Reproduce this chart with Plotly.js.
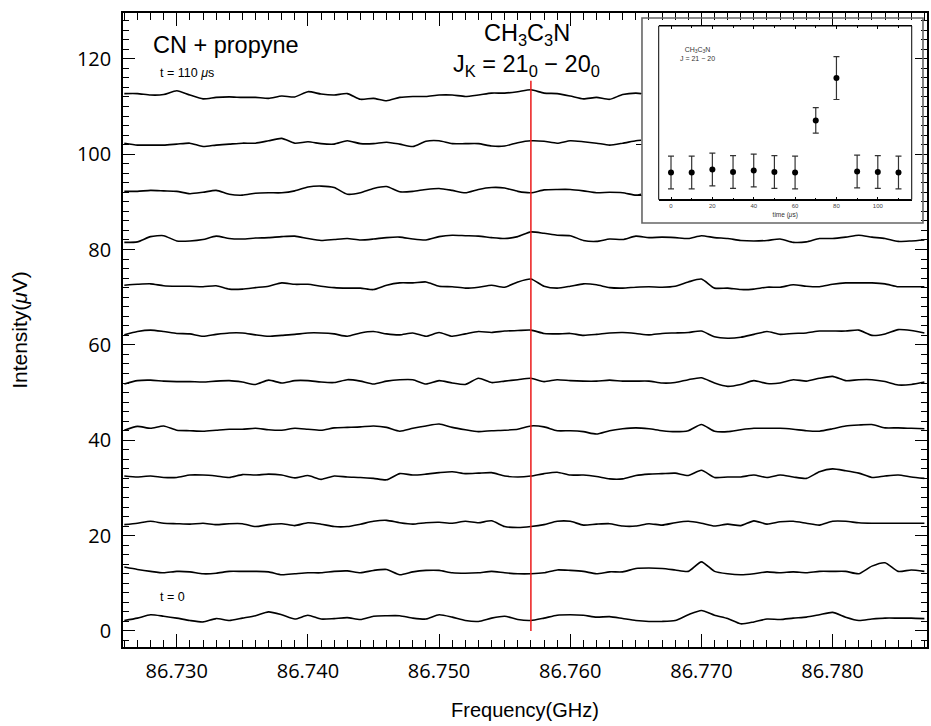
<!DOCTYPE html>
<html><head><meta charset="utf-8">
<script src="https://cdn.plot.ly/plotly-3.0.1.min.js"></script>
<style>html,body{margin:0;padding:0;background:#fff}#chart{width:931px;height:726px}</style>
</head><body><div id="chart"></div>
<script>
// ---- Main spectra: frequency grid (GHz) ----
const freqs = [86.726,86.727,86.728,86.729,86.730,86.731,86.732,86.733,86.734,86.735,
  86.736,86.737,86.738,86.739,86.740,86.741,86.742,86.743,86.744,86.745,
  86.746,86.747,86.748,86.749,86.750,86.751,86.752,86.753,86.754,86.755,
  86.756,86.757,86.758,86.759,86.760,86.761,86.762,86.763,86.764,86.765,
  86.766,86.767,86.768,86.769,86.770,86.771,86.772,86.773,86.774,86.775,
  86.776,86.777,86.778,86.779,86.780,86.781,86.782,86.783,86.784,86.785,
  86.786,86.787];
// upper three spectra end where the inset panel begins
const freqsTop = [86.726,86.727,86.728,86.729,86.730,86.731,86.732,86.733,86.734,86.735,
  86.736,86.737,86.738,86.739,86.740,86.741,86.742,86.743,86.744,86.745,
  86.746,86.747,86.748,86.749,86.750,86.751,86.752,86.753,86.754,86.755,
  86.756,86.757,86.758,86.759,86.760,86.761,86.762,86.763,86.764,86.765,
  86.7654];

// intensities (uV, offset per time step)
const int_t0 = [2.2,2.7,3.4,3.1,2.7,2.2,1.9,2.6,2.2,2.7, 3.2,4.0,3.4,2.5,3.3,2.5,2.6,2.8,2.4,3.1,
  3.2,3.2,2.7,2.5,3.4,2.9,2.2,2.0,2.7,3.1, 2.4,2.2,2.7,3.3,3.4,3.3,2.9,3.0,2.6,2.2,
  2.0,2.0,2.2,3.4,4.3,3.3,2.6,1.5,1.9,2.5, 2.4,2.7,2.9,3.4,3.9,2.9,2.2,2.5,2.7,2.7, 2.7,2.6];
const int_t10 = [13.4,12.9,12.5,12.2,12.5,12.4,12.0,12.1,12.5,12.5, 12.5,12.4,11.8,12.0,12.2,12.2,12.5,12.6,12.2,12.7,
  12.9,11.8,12.4,12.7,12.7,12.2,12.1,12.2,12.5,12.2, 12.0,12.0,12.2,12.8,12.7,12.5,12.0,12.4,12.4,13.1,
  13.2,13.1,12.8,12.5,14.5,12.5,12.0,11.8,12.0,12.4, 12.2,12.4,12.2,12.5,12.5,12.5,12.0,13.6,14.3,12.5, 12.8,12.5];
const int_t20 = [22.3,22.6,23.0,22.6,22.5,22.4,22.6,22.3,22.5,22.5, 21.9,22.3,22.5,22.1,22.7,22.4,21.9,21.9,22.4,23.0,
  23.2,22.7,22.4,22.7,22.8,22.6,23.0,22.7,23.1,21.9, 21.7,21.9,22.3,23.0,23.0,22.2,22.4,22.5,22.0,22.0,
  22.5,22.2,22.7,23.0,22.6,22.0,22.4,22.1,23.1,22.4, 22.9,23.0,22.6,22.2,23.0,23.0,22.7,22.6,22.6,22.6, 22.6,22.6];
const int_t30 = [32.5,32.3,32.5,32.2,32.2,32.7,32.7,32.5,32.2,32.8, 32.7,32.9,32.7,32.1,32.6,31.8,32.5,32.3,32.2,32.0,
  31.7,33.0,32.7,32.9,33.2,33.4,33.0,33.1,33.2,32.5, 32.3,32.5,33.0,33.3,32.7,32.7,32.4,31.9,31.9,32.6,
  32.9,33.0,33.1,32.6,33.7,32.2,32.3,32.3,32.7,32.2, 32.7,32.3,32.0,33.4,34.0,33.6,33.1,32.2,32.5,32.7, 32.3,32.0];
const int_t40 = [42.1,42.9,42.5,43.0,42.1,42.0,41.9,42.1,42.3,42.3, 42.5,42.2,42.1,42.5,42.3,42.1,42.6,42.7,42.8,43.0,
  42.7,41.9,42.5,43.0,43.4,42.7,42.2,41.8,42.0,42.1, 42.3,43.0,42.8,42.0,42.0,41.8,41.3,42.0,42.4,42.6,
  42.4,42.0,41.8,42.0,43.3,41.9,41.8,42.2,42.5,42.5, 42.5,42.3,42.0,41.9,42.4,43.0,43.2,43.3,42.6,42.6, 42.5,42.4];
const int_t50 = [51.8,52.5,52.6,52.4,52.3,52.3,52.2,52.4,52.5,52.2, 51.7,52.6,52.0,52.5,52.5,52.2,52.1,52.7,52.4,51.8,
  52.4,52.7,52.7,51.8,52.5,52.0,51.7,53.0,52.1,52.4, 52.7,53.0,52.3,52.7,52.5,52.4,52.4,52.6,52.4,52.4,
  52.4,52.0,52.1,52.7,53.1,52.0,51.3,51.7,52.5,51.9, 52.0,52.7,52.4,53.0,53.4,52.5,52.7,52.7,52.3,51.6, 51.7,52.2];
const int_t60 = [62.1,62.8,63.1,62.8,62.4,62.3,61.8,62.2,62.5,62.5, 62.1,61.8,62.0,62.2,62.5,62.5,62.3,61.8,62.5,62.8,
  62.3,62.1,62.5,61.8,62.6,61.8,62.3,62.8,62.6,62.9, 63.0,63.1,62.4,62.3,62.4,62.0,62.2,62.5,62.6,62.4,
  62.1,62.4,62.5,62.6,62.9,61.7,61.4,61.6,62.2,62.8, 62.2,62.4,62.5,62.9,62.9,62.9,63.1,62.0,62.3,63.2, 63.0,62.5];
const int_t70 = [72.5,72.7,72.8,72.4,72.3,72.3,72.2,72.4,71.7,71.7, 72.0,72.3,73.0,72.7,72.7,72.3,72.0,71.9,71.9,71.6,
  72.5,73.0,73.0,73.2,72.3,72.2,71.9,72.1,72.5,72.1, 73.2,73.8,72.3,71.9,72.3,72.8,72.6,72.0,71.9,72.1,
  72.2,72.1,72.3,73.2,73.8,71.9,71.9,71.6,71.7,72.1, 72.1,72.6,72.3,72.2,72.7,73.0,73.0,73.0,72.8,72.2, 72.2,72.2];
const int_t80 = [81.5,81.6,82.7,82.9,81.8,81.8,82.1,82.8,82.3,82.2, 82.4,82.5,82.7,82.8,82.3,81.9,82.1,82.3,82.0,82.2,
  82.5,82.6,82.2,82.0,82.7,83.0,82.9,82.8,82.5,82.3, 82.7,83.7,83.4,83.0,82.9,81.9,81.7,82.2,82.1,82.8,
  82.5,82.6,82.5,82.3,82.9,82.5,82.3,81.9,81.8,81.9, 82.2,81.5,81.6,82.3,82.3,82.6,83.0,82.6,82.3,81.7, 81.8,82.0];
const int_t90 = [92.2,92.2,92.4,92.3,92.2,91.7,92.0,92.4,91.6,91.4, 91.8,91.9,91.9,92.3,93.1,93.3,93.0,91.6,91.9,92.8,
  93.2,92.1,92.2,92.6,92.8,92.4,91.9,92.6,93.0,92.9, 92.2,91.9,92.5,92.6,92.6,92.3,91.9,92.0,91.9,91.4, 91.6];
const int_t100 = [102.3,101.9,101.9,101.9,102.1,102.3,101.6,101.9,102.1,102.3, 102.3,102.8,103.3,102.3,102.6,102.2,102.1,102.8,102.2,102.2,
  102.5,102.1,101.6,102.7,102.8,102.2,102.2,102.2,101.7,101.7, 102.4,102.8,102.7,102.3,102.8,102.6,102.3,101.9,102.3,102.8, 102.9];
const int_t110 = [112.7,112.7,112.4,112.5,113.3,112.4,111.6,111.9,112.0,111.9, 111.9,111.7,112.2,112.0,113.1,112.6,112.4,112.7,111.5,111.7,
  111.2,111.9,112.1,112.1,112.4,112.4,112.1,112.4,112.8,112.8, 113.1,113.5,112.8,112.7,112.2,111.6,111.9,111.5,112.5,112.8, 112.7];

// CH3C3N line marker
const lineFreq = [86.757, 86.757];
const lineIntensity = [0, 115.4];

// ---- Inset: line intensity vs time ----
const insetTime = [0, 10, 20, 30, 40, 50, 60, 70, 80, 90, 100, 110];
const insetSignal = [0.46, 0.46, 0.52, 0.47, 0.50, 0.47, 0.46, 1.48, 2.31, 0.48, 0.47, 0.46];
const insetError = [0.32, 0.32, 0.32, 0.32, 0.32, 0.32, 0.32, 0.25, 0.42, 0.32, 0.32, 0.32];

// tick labels
const xTickVals = [86.730, 86.740, 86.750, 86.760, 86.770, 86.780];
const xTickText = ['86.730', '86.740', '86.750', '86.760', '86.770', '86.780'];
const yTickVals = [0, 20, 40, 60, 80, 100, 120];
const insetTickVals = [0, 20, 40, 60, 80, 100];

const spectra = [
  [freqs, int_t0, 't = 0'], [freqs, int_t10, 't = 10'], [freqs, int_t20, 't = 20'],
  [freqs, int_t30, 't = 30'], [freqs, int_t40, 't = 40'], [freqs, int_t50, 't = 50'],
  [freqs, int_t60, 't = 60'], [freqs, int_t70, 't = 70'], [freqs, int_t80, 't = 80'],
  [freqsTop, int_t90, 't = 90'], [freqsTop, int_t100, 't = 100'], [freqsTop, int_t110, 't = 110']
];

const traces = spectra.map(s => ({
  type: 'scatter', mode: 'lines', x: s[0], y: s[1], name: s[2],
  line: {color: '#000', width: 1.6, shape: 'spline', smoothing: 0.6},
  xaxis: 'x', yaxis: 'y', hoverinfo: 'x+y+name'
}));
traces.push({
  type: 'scatter', mode: 'lines', x: lineFreq, y: lineIntensity, name: 'CH3C3N',
  line: {color: 'rgb(235,25,25)', width: 1.5}, xaxis: 'x', yaxis: 'y'
});
traces.push({
  type: 'scatter', mode: 'markers', x: insetTime, y: insetSignal, name: 'inset',
  marker: {color: '#000', size: 6},
  error_y: {type: 'data', array: insetError, visible: true, color: '#333', thickness: 1.2, width: 3},
  xaxis: 'x2', yaxis: 'y2'
});

const sansH = 'Liberation Sans, Arial, Helvetica, sans-serif';
const tickFam = 'Open Sans, sans-serif';

const layout = {
  width: 931, height: 726,
  margin: {l: 123, r: 4, t: 13, b: 79, pad: 0},
  paper_bgcolor: '#fff', plot_bgcolor: '#fff',
  showlegend: false,
  font: {family: sansH, color: '#000'},
  xaxis: {
    domain: [0, 1], range: [86.7259, 86.7872],
    tickmode: 'array', tickvals: xTickVals, ticktext: xTickText,
    ticks: 'inside', ticklen: 13, tickwidth: 1.3, tickcolor: '#000',
    minor: {dtick: 0.001, tick0: 86.73, ticks: 'inside', ticklen: 7, tickwidth: 1.2, tickcolor: '#000'},
    showline: true, linewidth: 1.6, linecolor: '#000', mirror: 'allticks',
    showgrid: false, zeroline: false,
    tickfont: {family: tickFam, size: 20, color: '#000'},
    ticklabelstandoff: 5,
    title: {text: 'Frequency(GHz)', font: {family: sansH, size: 20}, standoff: 20}
  },
  yaxis: {
    domain: [0, 1], range: [-3.36, 129.6],
    tickmode: 'array', tickvals: yTickVals,
    ticks: 'inside', ticklen: 12, tickwidth: 1.3, tickcolor: '#000',
    minor: {dtick: 2, tick0: 0, ticks: 'inside', ticklen: 6, tickwidth: 1.2, tickcolor: '#000'},
    showline: true, linewidth: 1.6, linecolor: '#000', mirror: 'allticks',
    showgrid: false, zeroline: false,
    tickfont: {family: tickFam, size: 20, color: '#000'},
    ticklabelstandoff: 6,
    title: {text: 'Intensity(<i>μ</i>V)', font: {family: sansH, size: 21}, standoff: 44}
  },
  xaxis2: {
    domain: [0.6663, 0.9810], range: [-5.95, 116.4], anchor: 'y2',
    tickmode: 'array', tickvals: insetTickVals,
    ticks: 'inside', ticklen: 3, tickwidth: 1, tickcolor: '#000',
    minor: {dtick: 10, tick0: 0, ticks: 'inside', ticklen: 2, tickcolor: '#000'},
    showline: true, linewidth: 1, linecolor: '#000', mirror: 'ticks',
    showgrid: false, zeroline: false,
    tickfont: {family: sansH, size: 6, color: '#444'},
    title: {text: 'time (<i>μ</i>s)', font: {family: sansH, size: 6.5, color: '#333'}, standoff: 4}
  },
  yaxis2: {
    domain: [0.7058, 0.9795], range: [-0.069, 3.33], anchor: 'free', position: 0.6455,
    tickmode: 'array', tickvals: [0, 1, 2], showticklabels: false,
    ticks: 'outside', ticklen: 6, tickwidth: 1, tickcolor: '#000',
    showline: false, showgrid: false, zeroline: false
  },
  shapes: [
    {type: 'rect', xref: 'x2 domain', yref: 'y2 domain', x0: 0, x1: 1, y0: 0, y1: 1,
     line: {color: '#000', width: 1}, layer: 'above'},
    {type: 'rect', xref: 'paper', yref: 'paper', x0: 0.6455, x1: 0.9950, y0: 0.6688, y1: 0.9921,
     line: {color: '#666', width: 1.6}, layer: 'above'}
  ],
  annotations: [
    {text: 'CN + propyne', x: 86.7280, y: 122.8, xref: 'x', yref: 'y', xanchor: 'left', yanchor: 'middle',
     showarrow: false, font: {family: sansH, size: 23.5}},
    {text: 't = 110 <i>μ</i>s', x: 86.7286, y: 117.1, xref: 'x', yref: 'y', xanchor: 'left', yanchor: 'middle',
     showarrow: false, font: {family: sansH, size: 12.5}},
    {text: 't = 0', x: 86.7286, y: 7.1, xref: 'x', yref: 'y', xanchor: 'left', yanchor: 'middle',
     showarrow: false, font: {family: sansH, size: 12.5}},
    {text: 'CH<sub>3</sub>C<sub>3</sub>N', x: 86.7567, y: 125.0, xref: 'x', yref: 'y', xanchor: 'center', yanchor: 'middle',
     showarrow: false, font: {family: sansH, size: 23.5}},
    {text: 'J<sub>K</sub> = 21<sub>0</sub> − 20<sub>0</sub>', x: 86.7567, y: 118.6, xref: 'x', yref: 'y', xanchor: 'center', yanchor: 'middle',
     showarrow: false, font: {family: sansH, size: 23.5}},
    {text: 'CH<sub>3</sub>C<sub>3</sub>N<br>J = 21 − 20', x: 12.6, y: 2.78, xref: 'x2', yref: 'y2', xanchor: 'center', yanchor: 'middle',
     showarrow: false, font: {family: sansH, size: 7, color: '#333'}}
  ]
};

Plotly.newPlot('chart', traces, layout, {displayModeBar: false, responsive: false});
</script>
</body></html>
